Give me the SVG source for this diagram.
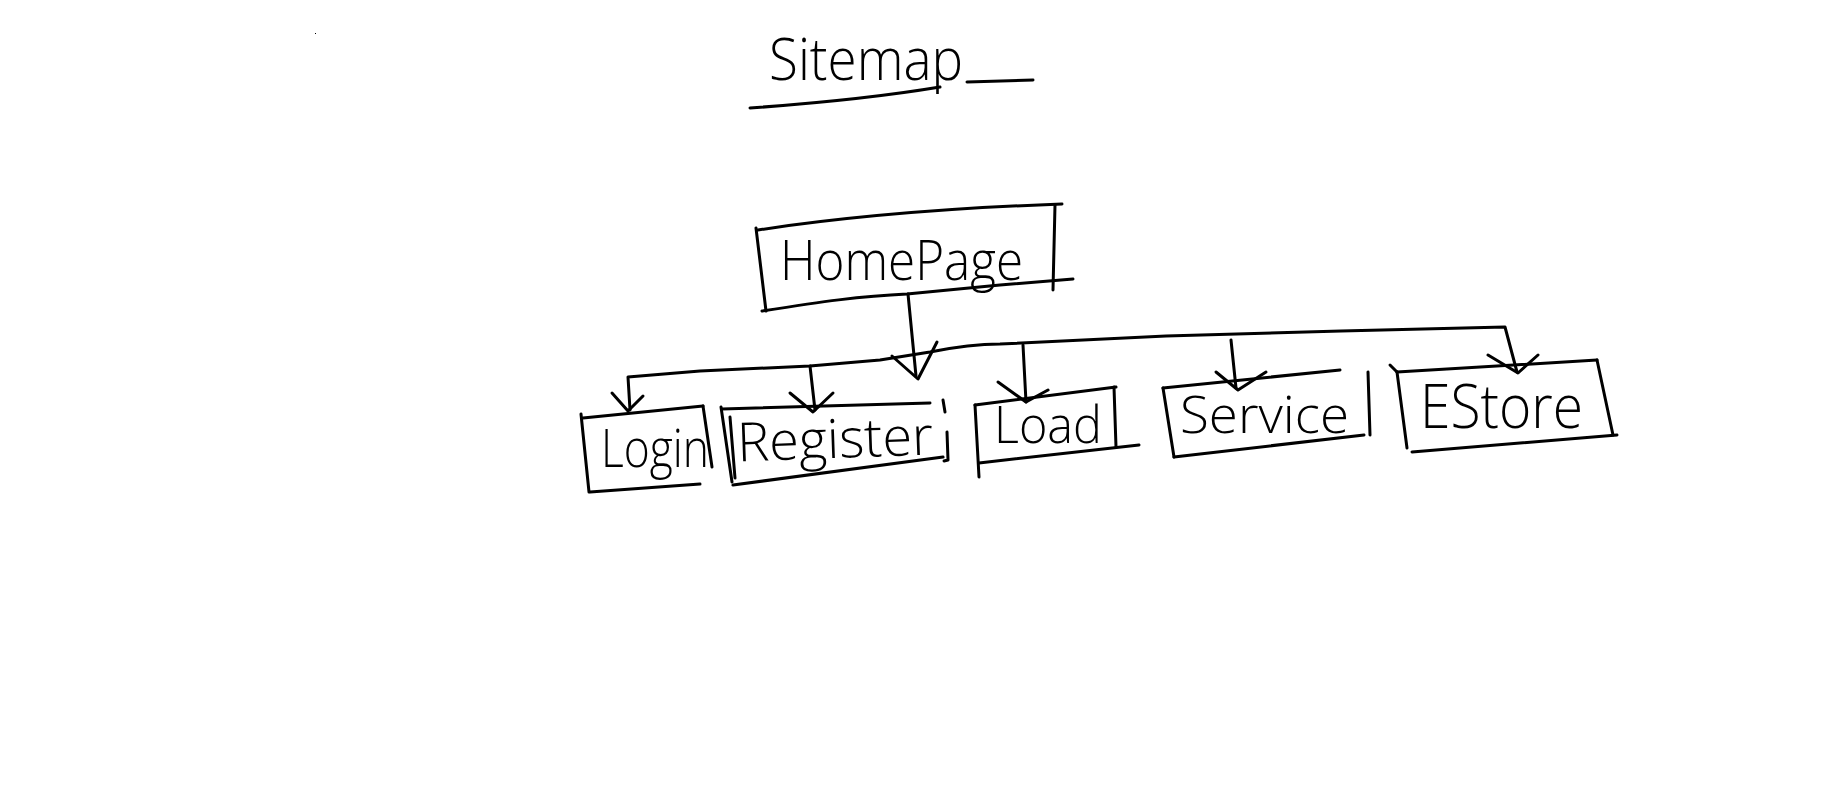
<svg xmlns="http://www.w3.org/2000/svg" width="1829" height="806" viewBox="0 0 1829 806">
<style>
.ink{fill:none;stroke:#000;stroke-width:3;stroke-linecap:round;stroke-linejoin:round}
.lbl{font-family:"Open Sans","Liberation Sans","Noto Sans",Arial,sans-serif;font-weight:300;fill:#000}
</style>
<rect width="1829" height="806" fill="#fff"/>
<rect x="315" y="33" width="1" height="1" fill="#000"/>
<g id="title">
<text class="lbl" x="769" y="80" font-size="58" textLength="194" lengthAdjust="spacingAndGlyphs">Sitemap</text>
<path class="ink" d="M967,82 L1033,80"/>
<path class="ink" d="M750,108 C820,103 880,97 940,87"/>
</g>
<g id="homepage">
<path class="ink" d="M758,230 C850,216 950,208 1062,204"/>
<path class="ink" d="M756,228 L766,311"/>
<path class="ink" d="M1055,205 L1053,290"/>
<path class="ink" d="M762,311 C820,302 860,296 907,294 L1000,285 L1073,279"/>
<text class="lbl" x="780" y="280" font-size="56" textLength="243" lengthAdjust="spacingAndGlyphs">HomePage</text>
</g>
<g id="connectors">
<path class="ink" d="M908,294 L916,376"/>
<path class="ink" d="M892,356 L918,379 L937,342"/>
<path class="ink" d="M630,410 L628,377 L700,371 L810,366 L880,360 L930,352 C960,346 980,344 1000,344 L1166,336 L1341,331 L1505,327 L1517,372"/>
<path class="ink" d="M612,393 L628,411 L643,396"/>
<path class="ink" d="M810,366 L815,410"/>
<path class="ink" d="M790,393 L813,412 L833,393"/>
<path class="ink" d="M1023,345 L1026,402"/>
<path class="ink" d="M998,382 L1026,402 L1048,390"/>
<path class="ink" d="M1231,340 L1236,388"/>
<path class="ink" d="M1216,372 L1238,390 L1266,372"/>
<path class="ink" d="M1488,355 L1518,373 L1538,355"/>
</g>
<g id="login">
<path class="ink" d="M583,418 L703,406"/>
<path class="ink" d="M581,414 L589,492"/>
<path class="ink" d="M703,406 L712,467"/>
<path class="ink" d="M590,492 L700,484"/>
<text class="lbl" x="601" y="467" font-size="54" textLength="108" lengthAdjust="spacingAndGlyphs">Login</text>
</g>
<g id="register">
<path class="ink" d="M722,409 L930,403"/>
<path class="ink" d="M721,407 L732,482"/>
<path class="ink" d="M730,417 L735,478"/>
<path class="ink" d="M943,400 L945,412"/>
<path class="ink" d="M947,432 L948,460 L944,461"/>
<path class="ink" d="M733,485 L943,457"/>
<text class="lbl" x="737" y="458" font-size="54" textLength="196" lengthAdjust="spacingAndGlyphs" transform="rotate(-2 835 440)">Register</text>
</g>
<g id="load">
<path class="ink" d="M975,405 L1116,387"/>
<path class="ink" d="M975,405 L979,477"/>
<path class="ink" d="M1114,387 L1116,447"/>
<path class="ink" d="M979,463 L1139,445"/>
<text class="lbl" x="994" y="443" font-size="52" textLength="108" lengthAdjust="spacingAndGlyphs">Load</text>
</g>
<g id="service">
<path class="ink" d="M1163,388 L1340,370"/>
<path class="ink" d="M1163,388 L1174,457"/>
<path class="ink" d="M1174,457 L1364,435"/>
<path class="ink" d="M1368,372 L1370,435"/>
<text class="lbl" x="1180" y="433" font-size="52" textLength="169" lengthAdjust="spacingAndGlyphs">Service</text>
</g>
<g id="estore">
<path class="ink" d="M1390,365 L1397,372"/>
<path class="ink" d="M1397,372 L1597,360"/>
<path class="ink" d="M1397,372 L1407,448"/>
<path class="ink" d="M1412,452 L1617,435"/>
<path class="ink" d="M1597,360 L1613,435"/>
<text class="lbl" x="1420" y="428" font-size="60" textLength="163" lengthAdjust="spacingAndGlyphs">EStore</text>
</g>
</svg>
